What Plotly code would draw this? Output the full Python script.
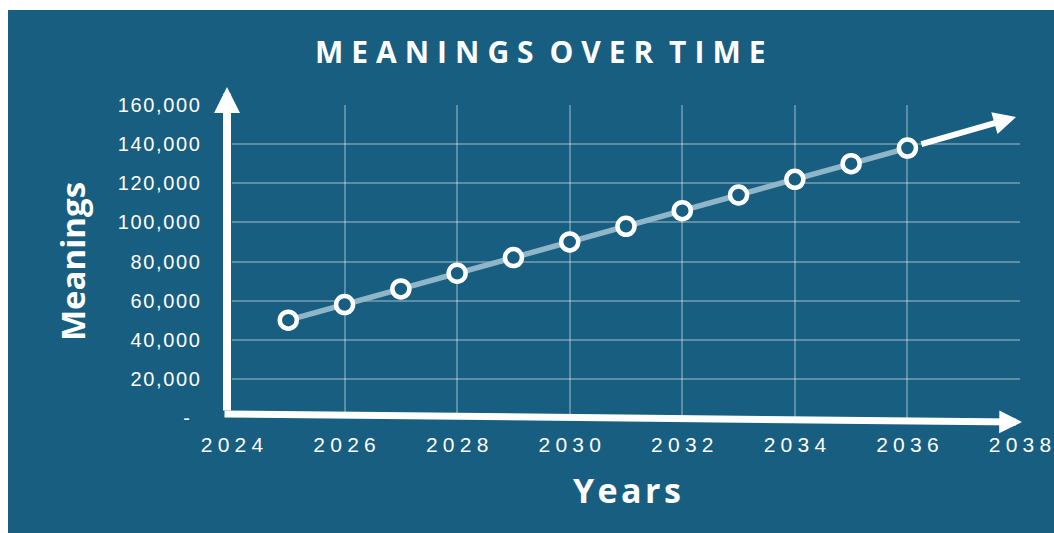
import plotly.graph_objects as go

# ---- data ----
years = [2025, 2026, 2027, 2028, 2029, 2030, 2031, 2032, 2033, 2034, 2035, 2036]
meanings = [50000, 58000, 66000, 74000, 82000, 90000, 98000, 106000, 114000, 122000, 130000, 138000]
x_ticks = [2024, 2026, 2028, 2030, 2032, 2034, 2036, 2038]
y_ticks = [0, 20000, 40000, 60000, 80000, 100000, 120000, 140000, 160000]
trend_end = (2037.93, 153900)

BG = "#175e80"
GRID = "rgba(255,255,255,0.30)"
LINE = "#8fb5c9"

W, H = 1054, 533
L, R, T, B = 232, 34, 105, 115
PW, PH = W - L - R, H - T - B


def px2paper_x(px):
    return (px - L) / PW


def px2paper_y(py):
    return (H - B - py) / PH


def spaced(s, sp):
    return sp.join(list(s))


x_text = [spaced(str(v), "\u2005") for v in x_ticks]
y_text = [("-\u2002" if v == 0 else spaced(f"{v:,}", "\u200a")) for v in y_ticks]

fig = go.Figure()
fig.add_trace(go.Scatter(
    x=years, y=meanings, mode="lines+markers",
    line=dict(color=LINE, width=5.5),
    marker=dict(size=17, color=BG, line=dict(color="white", width=4.5)),
    cliponaxis=False, showlegend=False,
))

xtick_font = dict(family="Liberation Sans, Arial, sans-serif", size=21, color="white")
ytick_font = dict(family="Liberation Sans, Arial, sans-serif", size=20, color="white")

fig.update_xaxes(
    range=[x_ticks[0], x_ticks[-1]], tickvals=x_ticks, ticktext=x_text,
    showgrid=True, gridcolor=GRID, gridwidth=1.8, zeroline=False, showline=False,
    ticks="", ticklabelstandoff=12, tickfont=xtick_font, automargin=False,
)
fig.update_yaxes(
    range=[y_ticks[0], y_ticks[-1]], tickvals=y_ticks, ticktext=y_text,
    showgrid=True, gridcolor=GRID, gridwidth=1.8, zeroline=False, showline=False,
    ticks="", ticklabelstandoff=31, tickfont=ytick_font, automargin=False,
)

title_sep = "\u2009\u200a"
annotations = [
    # title
    dict(text=(" " + title_sep).join(spaced(w, title_sep) for w in "MEANINGS OVER TIME".split(" ")),
         xref="paper", yref="paper", x=px2paper_x(540), y=px2paper_y(52),
         xanchor="center", yanchor="middle", showarrow=False,
         font=dict(family="Open Sans, Liberation Sans, sans-serif", size=30, color="white", weight="bold")),
    # axis titles
    dict(text="Meanings", xref="paper", yref="paper", x=px2paper_x(72), y=px2paper_y(262),
         xanchor="center", yanchor="middle", textangle=-90, showarrow=False,
         font=dict(family="Open Sans, Liberation Sans, sans-serif", size=33, color="white", weight="bold")),
    dict(text=spaced("Years", "\u200a"), xref="paper", yref="paper", x=px2paper_x(627), y=px2paper_y(490),
         xanchor="center", yanchor="middle", showarrow=False,
         font=dict(family="Open Sans, Liberation Sans, sans-serif", size=34, color="white", weight="bold")),
    # y axis arrow
    dict(text="", xref="paper", yref="paper", x=px2paper_x(227), y=px2paper_y(87),
         ax=0, ay=325, showarrow=True, arrowhead=2, arrowwidth=8, arrowsize=0.65, arrowcolor="white"),
    # x axis arrow
    dict(text="", xref="paper", yref="paper", x=px2paper_x(1022), y=px2paper_y(422),
         ax=-799, ay=-8, showarrow=True, arrowhead=2, arrowwidth=7, arrowsize=0.65, arrowcolor="white"),
    # trend arrow
    dict(text="", xref="x", yref="y", x=trend_end[0], y=trend_end[1],
         axref="x", ayref="y", ax=years[-1], ay=meanings[-1], startstandoff=13,
         showarrow=True, arrowhead=2, arrowwidth=6, arrowsize=0.75, arrowcolor="white"),
]

shapes = [
    dict(type="rect", xref="paper", yref="paper", x0=px2paper_x(-5), x1=px2paper_x(8),
         y0=px2paper_y(H + 5), y1=px2paper_y(-5), fillcolor="white", line=dict(width=0), layer="above"),
    dict(type="rect", xref="paper", yref="paper", x0=px2paper_x(-5), x1=px2paper_x(W + 5),
         y0=px2paper_y(10), y1=px2paper_y(-5), fillcolor="white", line=dict(width=0), layer="above"),
]

fig.update_layout(
    width=W, height=H,
    margin=dict(l=L, r=R, t=T, b=B),
    paper_bgcolor=BG, plot_bgcolor=BG,
    annotations=annotations, shapes=shapes,
)

fig.write_html("out.html")
